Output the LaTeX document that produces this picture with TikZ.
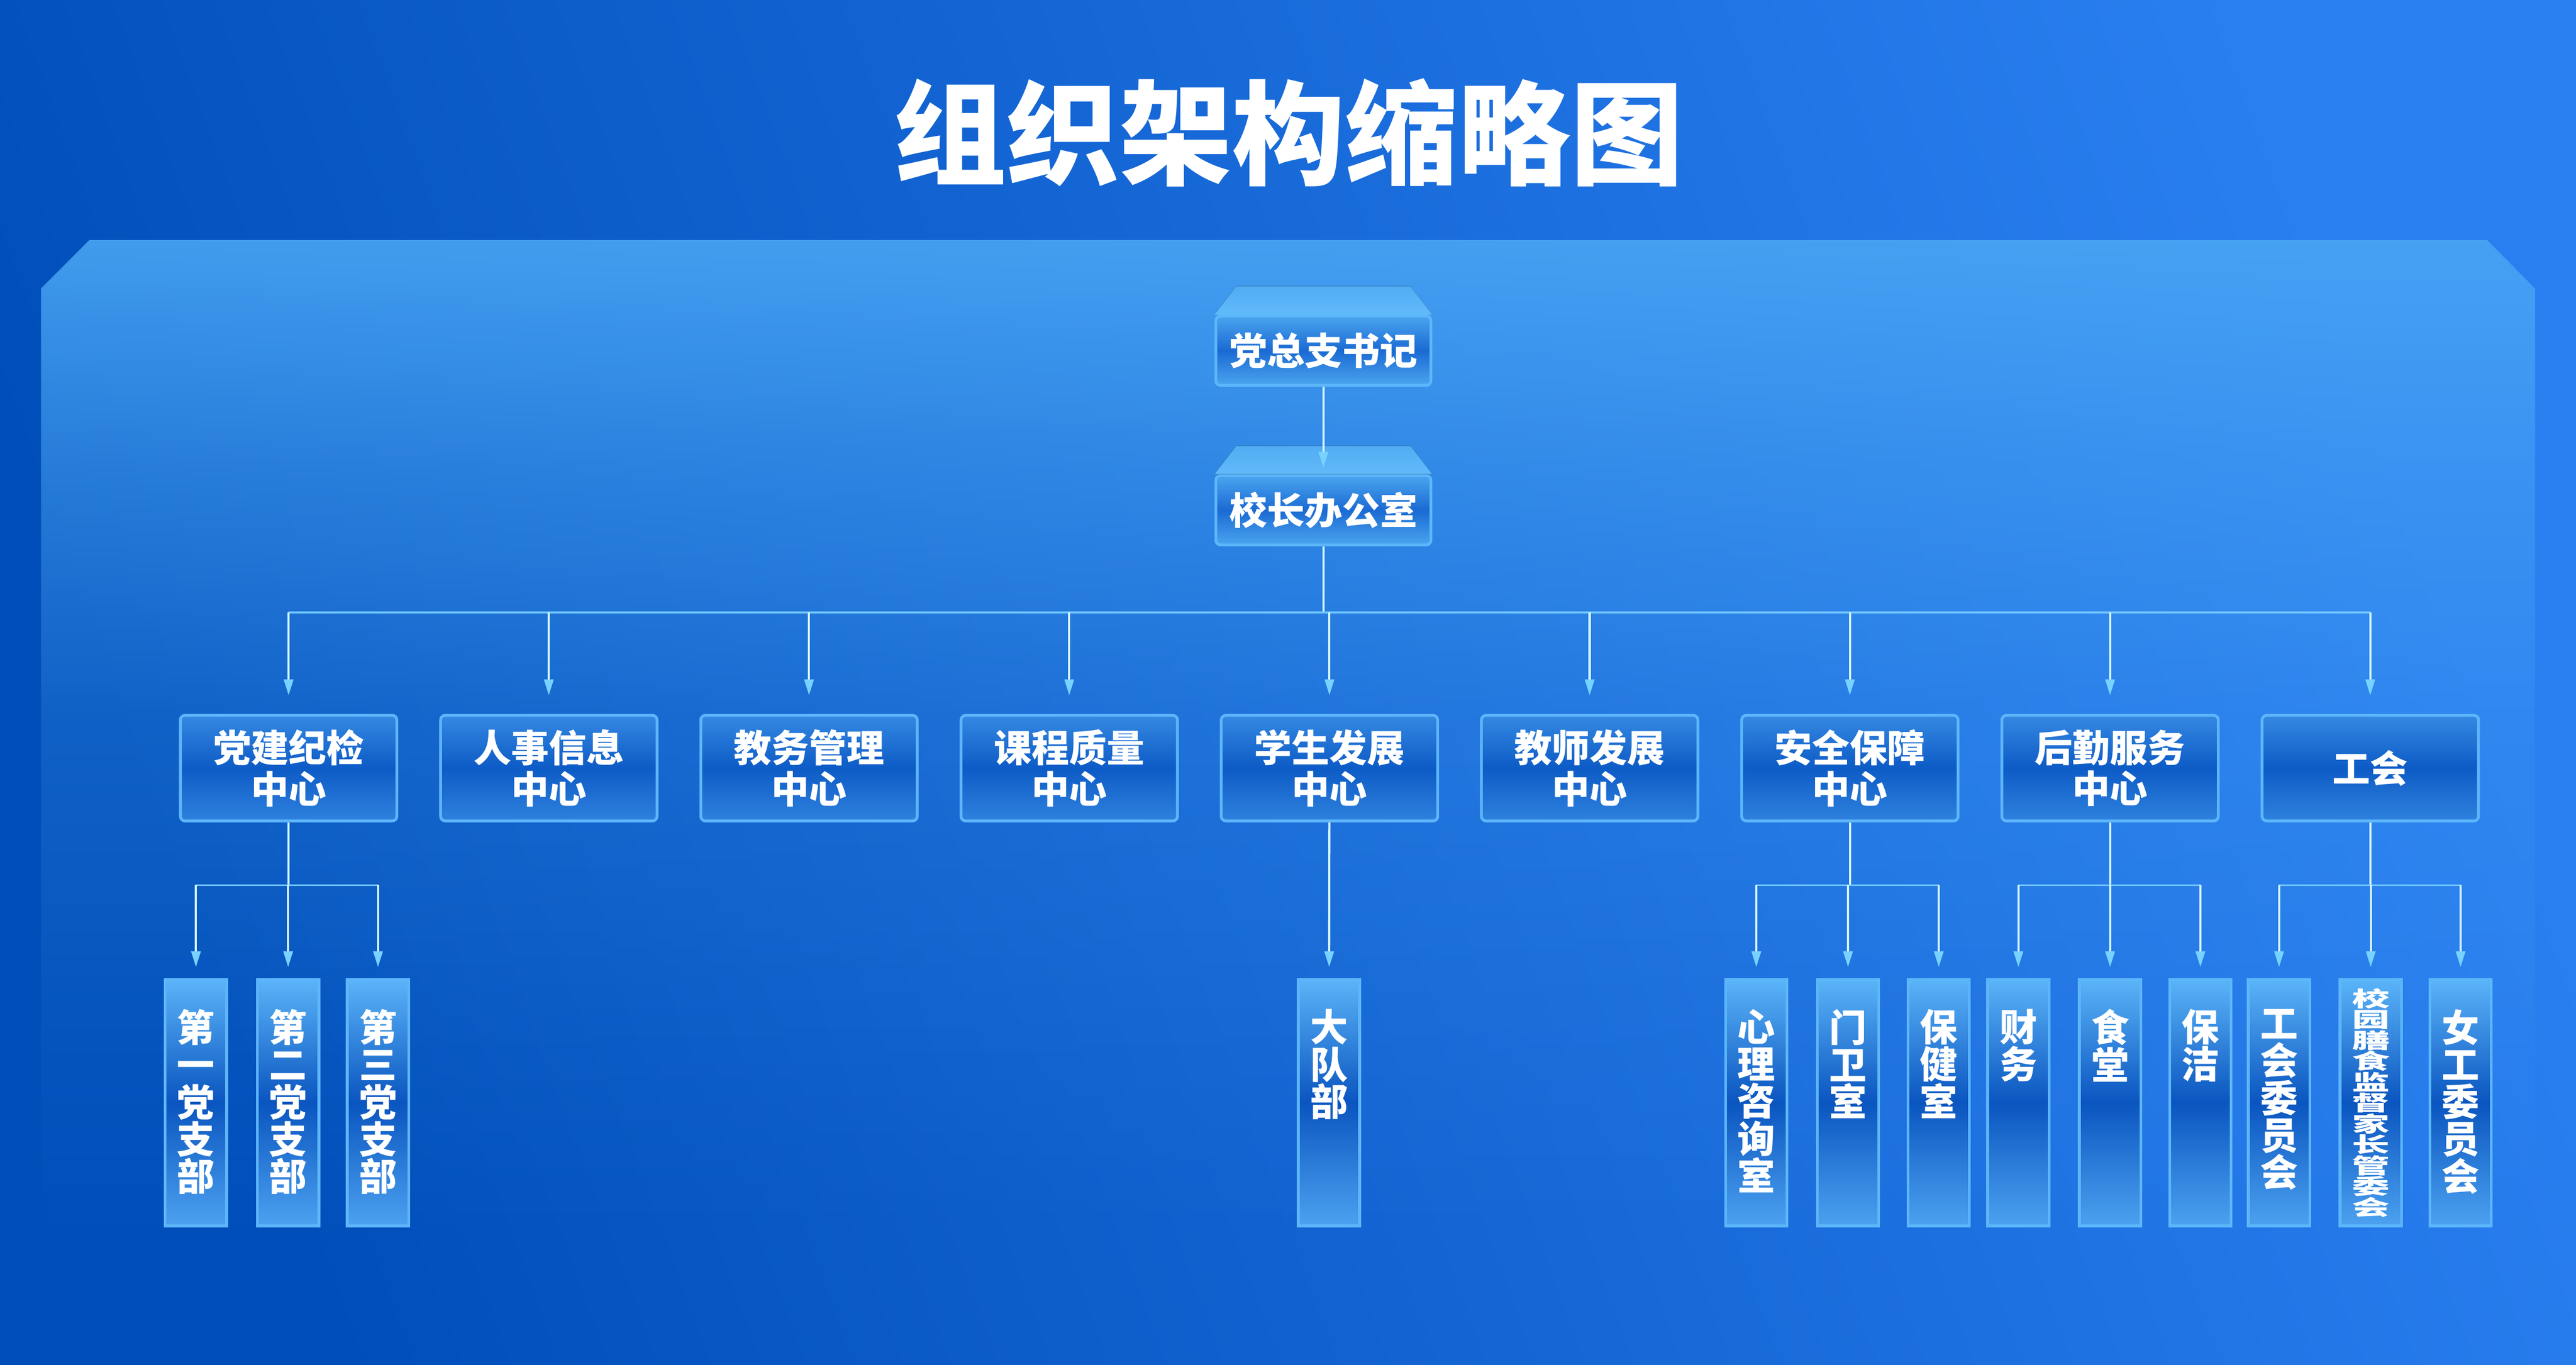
\documentclass[tikz,border=0pt]{standalone}
\usepackage{fontspec}
\setmainfont{Noto Sans CJK SC}
\usepackage{graphicx}
\usepackage{tikz}
\usetikzlibrary{arrows.meta, positioning, fadings}
\definecolor{bgleft}{HTML}{004EBA}
\definecolor{bgright}{HTML}{2A7FF0}
\definecolor{panelblue}{HTML}{4AA6F4}
\definecolor{boxtop}{HTML}{3589E2}
\definecolor{boxmid}{HTML}{0D5BC6}
\definecolor{boxbot}{HTML}{2F82DE}
\definecolor{boxline}{HTML}{5DB6FA}
\definecolor{headtop}{HTML}{4BA5EF}
\definecolor{headmid}{HTML}{1A6AD3}
\definecolor{lidtop}{HTML}{52ACF2}
\definecolor{lidbot}{HTML}{60BAFA}
\definecolor{unittop}{HTML}{5BB4F8}
\definecolor{unitmid}{HTML}{0A55C0}
\definecolor{unitbot}{HTML}{4CA2F0}
\definecolor{linkline}{HTML}{D5F5FF}
\definecolor{linktip}{HTML}{78D2FF}
\definecolor{busline}{HTML}{70C6FF}
\newcommand{\vlabel}[1]{\parbox[c][4.02cm][t]{1.3cm}{\centering\lineskiplimit=-20pt\relax #1}}

% the panel gets lighter towards its top edge
\begin{tikzfadingfrompicture}[name=panelfade]
\shade[top color=transparent!12, bottom color=transparent!47] (-27,6.09) rectangle (27,10.87);
\shade[top color=transparent!47, bottom color=transparent!78] (-27,0.65) rectangle (27,6.12);
\shade[top color=transparent!78, bottom color=transparent!93] (-27,-6.52) rectangle (27,0.68);
\shade[top color=transparent!93, bottom color=transparent!100] (-27,-10.87) rectangle (27,-6.49);
\end{tikzfadingfrompicture}

\begin{document}
\begin{tikzpicture}[
  node distance=0.88cm,
  panel/.style={fill=panelblue, path fading=panelfade, fit fading=false,
                fading transform={xshift=27.67cm, yshift=-16.03cm}},
  heading/.style={text=white, font=\fontsize{69}{69}\selectfont\bfseries},
  headbox/.style={rectangle, rounded corners=1mm, draw=boxline, line width=0.6mm,
                  top color=headtop, bottom color=headtop, middle color=headmid,
                  minimum width=4.62cm, minimum height=1.49cm, text=white,
                  font=\fontsize{23}{25}\selectfont\bfseries},
  lid/.style={top color=lidtop, bottom color=lidbot},
  centre/.style={rectangle, rounded corners=1mm, draw=boxline, line width=0.6mm,
                 top color=boxtop, bottom color=boxbot, middle color=boxmid,
                 minimum width=4.65cm, minimum height=2.27cm, align=center, text=white,
                 font=\fontsize{23}{25}\selectfont\bfseries},
  unit/.style={rectangle, draw=boxline, line width=0.6mm,
               top color=unittop, bottom color=unitbot, middle color=unitmid,
               minimum width=1.32cm, minimum height=5.29cm, inner sep=0pt, text=white,
               font=\fontsize{23}{22.76}\selectfont\bfseries},
  trunk/.style={draw=linkline, line width=0.45mm},
  bus/.style={draw=busline, line width=0.4mm},
  arrow/.style={draw=linkline, line width=0.45mm, shorten >=4mm,
                -{Triangle[width=2mm, length=3.4mm, color=linktip]}}
]

\useasboundingbox (0,0) rectangle (55.34,-29.32);
\shade[shading=axis, top color=bgright, bottom color=bgleft, shading angle=-70] (0,0) rectangle (55.34,-29.32);
\fill[panel] (0.88,-6.20) -- (1.92,-5.16) -- (53.43,-5.16) -- (54.46,-6.20) -- (54.46,-26.90) -- (0.88,-26.90) -- cycle;

\node[heading] (title) at (27.68,-2.85) {组织架构缩略图};

% top of the chart
\node[headbox] (t1) at (28.43,-7.535) {党总支书记};
\node[headbox, below=1.88cm of t1] (t2) {校长办公室};
\fill[lid] (t1.north west) -- ([xshift=4.7mm, yshift=6.1mm]t1.north west) -- ([xshift=-4.7mm, yshift=6.1mm]t1.north east) -- (t1.north east) -- cycle;
\fill[lid] (t2.north west) -- ([xshift=4.7mm, yshift=6.1mm]t2.north west) -- ([xshift=-4.7mm, yshift=6.1mm]t2.north east) -- (t2.north east) -- cycle;

% centres
\node[centre] (c1) at (6.20,-16.505) {党建纪检\\中心};
\node[centre, right=of c1] (c2) {人事信息\\中心};
\node[centre, right=of c2] (c3) {教务管理\\中心};
\node[centre, right=of c3] (c4) {课程质量\\中心};
\node[centre, right=of c4] (c5) {学生发展\\中心};
\node[centre, right=of c5] (c6) {教师发展\\中心};
\node[centre, right=of c6] (c7) {安全保障\\中心};
\node[centre, right=of c7] (c8) {后勤服务\\中心};
\node[centre, right=of c8] (c9) {工会};

% units
\node[unit] (u1) at (4.21,-23.695) {\vlabel{第\\一\\党\\支\\部}};
\node[unit] (u2) at (6.19,-23.695) {\vlabel{第\\二\\党\\支\\部}};
\node[unit] (u3) at (8.12,-23.695) {\vlabel{第\\三\\党\\支\\部}};
\node[unit] (u4) at (28.55,-23.695) {\vlabel{大\\队\\部}};
\node[unit] (u5) at (37.73,-23.695) {\vlabel{心\\理\\咨\\询\\室}};
\node[unit] (u6) at (39.70,-23.695) {\vlabel{门\\卫\\室}};
\node[unit] (u7) at (41.65,-23.695) {\vlabel{保\\健\\室}};
\node[unit] (u8) at (43.36,-23.695) {\vlabel{财\\务}};
\node[unit] (u9) at (45.33,-23.695) {\vlabel{食\\堂}};
\node[unit] (u10) at (47.27,-23.695) {\vlabel{保\\洁}};
\node[unit] (u11) at (48.96,-23.695) {\vlabel{工\\会\\委\\员\\会}};
\node[unit] (u12) at (50.93,-23.695) {\scalebox{1}[0.56]{\parbox{1.3cm}{\centering\lineskiplimit=-20pt\relax 校\\园\\膳\\食\\监\\督\\家\\长\\管\\委\\会}}};
\node[unit] (u13) at (52.86,-23.695) {\vlabel{女\\工\\委\\员\\会}};

% connectors
\draw[arrow, shorten >=1.4mm] (t1) -- (t2);
\coordinate (hub) at ([yshift=-1.42cm]t2.south);
\draw[trunk] (t2) -- (hub);
\draw[bus] (c1 |- hub) -- (c9 |- hub);
\draw[arrow] (c1 |- hub) -- (c1);
\draw[arrow] (c2 |- hub) -- (c2);
\draw[arrow] (c3 |- hub) -- (c3);
\draw[arrow] (c4 |- hub) -- (c4);
\draw[arrow] (c5 |- hub) -- (c5);
\draw[arrow] (c6 |- hub) -- (c6);
\draw[arrow] (c7 |- hub) -- (c7);
\draw[arrow] (c8 |- hub) -- (c8);
\draw[arrow] (c9 |- hub) -- (c9);

\coordinate (j1) at ([yshift=-1.35cm]c1.south);
\draw[trunk] (c1) -- (j1);
\draw[bus] (u1 |- j1) -- (u3 |- j1);
\draw[arrow, shorten >=2.4mm] (u1 |- j1) -- (u1);
\draw[arrow, shorten >=2.4mm] (u2 |- j1) -- (u2);
\draw[arrow, shorten >=2.4mm] (u3 |- j1) -- (u3);

\draw[arrow, shorten >=2.4mm] (c5) -- (u4);

\coordinate (j7) at ([yshift=-1.35cm]c7.south);
\draw[trunk] (c7) -- (j7);
\draw[bus] (u5 |- j7) -- (u7 |- j7);
\draw[arrow, shorten >=2.4mm] (u5 |- j7) -- (u5);
\draw[arrow, shorten >=2.4mm] (u6 |- j7) -- (u6);
\draw[arrow, shorten >=2.4mm] (u7 |- j7) -- (u7);

\coordinate (j8) at ([yshift=-1.35cm]c8.south);
\draw[trunk] (c8) -- (j8);
\draw[bus] (u8 |- j8) -- (u10 |- j8);
\draw[arrow, shorten >=2.4mm] (u8 |- j8) -- (u8);
\draw[arrow, shorten >=2.4mm] (u9 |- j8) -- (u9);
\draw[arrow, shorten >=2.4mm] (u10 |- j8) -- (u10);

\coordinate (j9) at ([yshift=-1.35cm]c9.south);
\draw[trunk] (c9) -- (j9);
\draw[bus] (u11 |- j9) -- (u13 |- j9);
\draw[arrow, shorten >=2.4mm] (u11 |- j9) -- (u11);
\draw[arrow, shorten >=2.4mm] (u12 |- j9) -- (u12);
\draw[arrow, shorten >=2.4mm] (u13 |- j9) -- (u13);

\end{tikzpicture}
\end{document}
